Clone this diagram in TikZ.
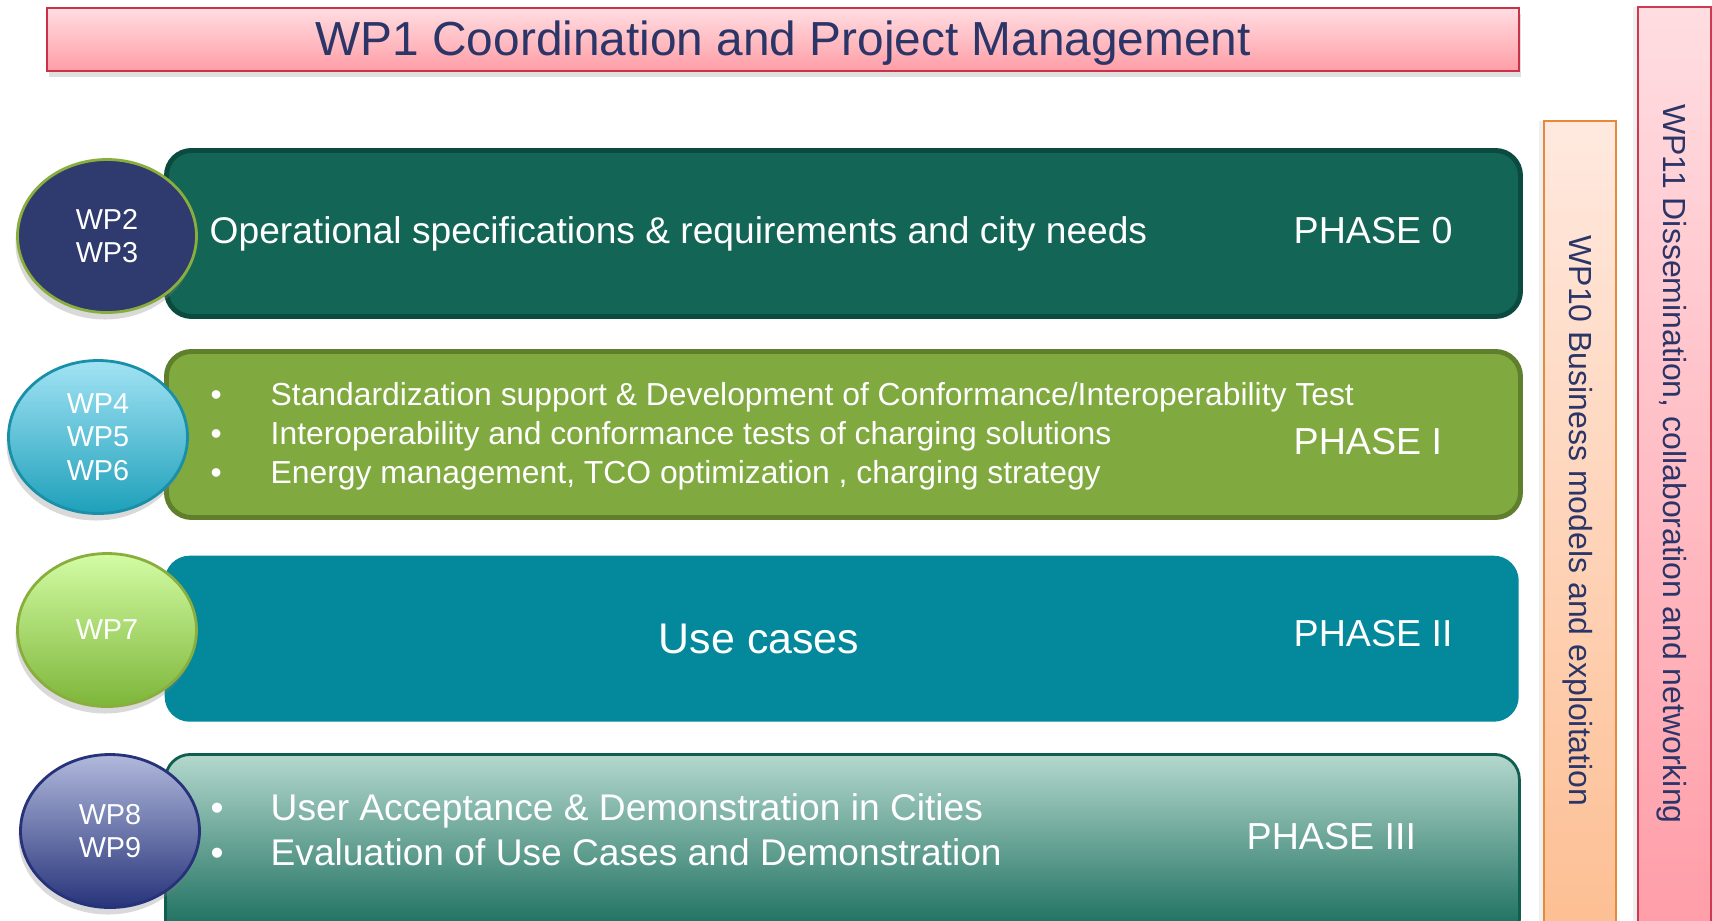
\documentclass[tikz,border=0pt]{standalone}
\usepackage{fontspec}
\setmainfont{Liberation Sans}
\usetikzlibrary{shapes.geometric,shadows}

\definecolor{navytext}{HTML}{2C3568}
\definecolor{titletop}{HTML}{FFDDE1}
\definecolor{titlebottom}{HTML}{FF9DA6}
\definecolor{titleborder}{HTML}{C9334A}
\definecolor{peachtop}{HTML}{FFE9DF}
\definecolor{peachbottom}{HTML}{FDBF93}
\definecolor{peachborder}{HTML}{E58A3A}
\definecolor{pinktop}{HTML}{FFDDE1}
\definecolor{pinkbottom}{HTML}{FF9DA8}
\definecolor{pinkborder}{HTML}{CE3A50}
\definecolor{phasezero}{HTML}{136556}
\definecolor{phasezeroborder}{HTML}{0B4A3E}
\definecolor{phaseone}{HTML}{80A940}
\definecolor{phaseoneborder}{HTML}{5F7F2D}
\definecolor{phasetwo}{HTML}{03899B}
\definecolor{phasethreetop}{HTML}{B4D8CD}
\definecolor{phasethreebottom}{HTML}{0F6655}
\definecolor{phasethreeborder}{HTML}{0F5E50}
\definecolor{wpnavy}{HTML}{2F3A6E}
\definecolor{wpgreenborder}{HTML}{8AAE3E}
\definecolor{cyantop}{HTML}{A2E3F4}
\definecolor{cyanbottom}{HTML}{1EA0BA}
\definecolor{cyanborder}{HTML}{1990A8}
\definecolor{limetop}{HTML}{D3FCA4}
\definecolor{limebottom}{HTML}{7DB63A}
\definecolor{violettop}{HTML}{B1B9DC}
\definecolor{violetbottom}{HTML}{27347A}
\definecolor{violetborder}{HTML}{26327A}

\newcommand{\bitem}[1]{\makebox[0.6cm][l]{\textbullet}#1}

\begin{document}
\begin{tikzpicture}
  % Define styles for nodes
  \tikzstyle{phasebox} = [anchor=north west, rectangle, rounded corners=0.25cm,
  minimum width=13.54cm, minimum height=1.66cm]
  \tikzstyle{wpcircle} = [ellipse, minimum width=1.79cm, minimum height=1.53cm,
  inner sep=0pt, line width=0.8pt, text=white, align=center,
  font=\fontsize{8.2}{9.5}\selectfont,
  drop shadow={shadow xshift=-0.02cm, shadow yshift=-0.07cm, opacity=0.3}]
  \tikzstyle{wpbar} = [anchor=north west, rectangle, line width=0.7pt,
  drop shadow={shadow xshift=-0.05cm, shadow yshift=0cm, opacity=0.12}]
  \tikzstyle{bartext} = [rotate=-90, text=navytext,
  font=\fontsize{9.1}{11}\selectfont]
  \tikzstyle{phaselabel} = [anchor=west, inner sep=0pt, text=white,
  font=\fontsize{10.7}{12}\selectfont]

  \useasboundingbox (0,0) rectangle (17.12,-9.20);

  % Title bar at top
  \node[rectangle, anchor=north west, inner sep=0pt, minimum width=14.72cm,
  minimum height=0.63cm, top color=titletop, bottom color=titlebottom,
  draw=titleborder, line width=0.7pt, text=navytext,
  text height=1.09em, text depth=0.21em,
  font=\fontsize{13.6}{15}\selectfont,
  drop shadow={shadow xshift=0.02cm, shadow yshift=-0.06cm, opacity=0.25}]
  (wp1) at (0.46,-0.07) {WP1 Coordination and Project Management};

  % Side bars
  \node[wpbar, minimum width=0.72cm, minimum height=8.1cm, top color=peachtop,
  bottom color=peachbottom, draw=peachborder] (wp10) at (15.43,-1.20) {};
  \node[wpbar, minimum width=0.73cm, minimum height=9.3cm, top color=pinktop,
  bottom color=pinkbottom, draw=pinkborder] (wp11) at (16.37,-0.06) {};
  \node[bartext] (wp10label) at (15.78,-5.21) {WP10 Business models and exploitation};
  \node[bartext] (wp11label) at (16.72,-4.64) {WP11 Dissemination, collaboration and networking};

  % Phase boxes
  \node[phasebox, fill=phasezero, draw=phasezeroborder, line width=1.4pt]
  (phase0) at (1.64,-1.48) {};
  \node[phasebox, fill=phaseone, draw=phaseoneborder, line width=1.4pt]
  (phase1) at (1.64,-3.49) {};
  \node[phasebox, fill=phasetwo] (phase2) at (1.64,-5.55) {};
  \node[phasebox, minimum height=1.9cm, top color=phasethreetop,
  bottom color=phasethreebottom, draw=phasethreeborder, line width=0.8pt]
  (phase3) at (1.64,-7.53) {};

  % Texts in the phase boxes
  \node[phaselabel, font=\fontsize{10.57}{12}\selectfont] (opspec) at (2.09,-2.34)
  {Operational specifications \& requirements and city needs};
  \node[phaselabel] (ph0) at (12.93,-2.31) {PHASE 0};

  \node[anchor=west, inner sep=0pt, text=white, align=left,
  font=\fontsize{9.06}{11.05}\selectfont] (stdlist) at (2.10,-4.36)
  {\bitem{Standardization support \& Development of Conformance/Interoperability Test}\\
   \bitem{Interoperability and conformance tests of charging solutions}\\
   \bitem{Energy management, TCO optimization , charging strategy}};
  \node[phaselabel] (ph1) at (12.93,-4.42) {PHASE I};

  \node[phaselabel, anchor=center, font=\fontsize{12.2}{14}\selectfont]
  (usecases) at (7.59,-6.39) {Use cases};
  \node[phaselabel] (ph2) at (12.93,-6.34) {PHASE II};

  \node[anchor=west, inner sep=0pt, text=white, align=left,
  font=\fontsize{10.57}{12.8}\selectfont] (evallist) at (2.10,-8.30)
  {\bitem{User Acceptance \& Demonstration in Cities}\\
   \bitem{Evaluation of Use Cases and Demonstration}};
  \node[phaselabel] (ph3) at (12.46,-8.37) {PHASE III};

  % Work package circles
  \node[wpcircle, fill=wpnavy, draw=wpgreenborder] (wp23) at (1.07,-2.36) {WP2\\WP3};
  \node[wpcircle, top color=cyantop, bottom color=cyanbottom, draw=cyanborder]
  (wp456) at (0.98,-4.37) {WP4\\WP5\\WP6};
  \node[wpcircle, top color=limetop, bottom color=limebottom, draw=wpgreenborder]
  (wp7) at (1.07,-6.30) {WP7};
  \node[wpcircle, top color=violettop, bottom color=violetbottom, draw=violetborder]
  (wp89) at (1.10,-8.31) {WP8\\WP9};
\end{tikzpicture}
\end{document}
